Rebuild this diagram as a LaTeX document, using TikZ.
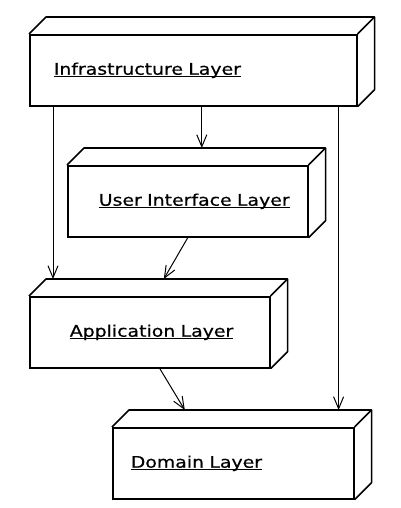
\documentclass[tikz,border=0pt]{standalone}
\usepackage{fontspec}
\setmainfont{DejaVu Sans}[FakeStretch = 1.18, FakeBold = 0.6]
\usetikzlibrary{positioning, calc, arrows.meta}
\newcommand{\layername}[2]{\hspace*{#1}\setbox0\hbox{#2}\raisebox{-3pt}{\rlap{\rule[-2.2pt]{\wd0}{1.2pt}}\box0}}
\tikzset{openbarb/.tip={Straight Barb[length=12pt, width=10pt, line width=1pt]}}

\begin{document}
\begin{tikzpicture}[
    x = 1pt,
    y = -1pt,
    every node/.style={
        draw = black,
        line width = 1.6,
        minimum height = 71pt,
        inner xsep = 0pt,
        align = left,
        anchor = north west,
        font = \fontsize{16}{18}\selectfont
    },
    >={openbarb}
]
\useasboundingbox (0,0) rectangle (400,508);

% layers
\node[text width = 327pt] (infra) at (29, 34) {\layername{24pt}{Infrastructure Layer}};
\node[text width = 240pt] (ui) at (67, 165) {\layername{31pt}{User Interface Layer}};
\node[text width = 240pt] (app) at (29, 296) {\layername{40pt}{Application Layer}};
\node[text width = 241pt] (dom) at (112, 427) {\layername{18pt}{Domain Layer}};

% depth of the boxes
\foreach \n in {infra, ui, app, dom}
{
    \draw[line width = 1.6, line join = round] (\n.north west) -- ++(17,-17) -- ($(\n.north east) + (17,-17)$) -- ($(\n.south east) + (17,-17)$) -- (\n.south east);
    \draw[line width = 1.6] (\n.north east) -- ++(17,-17);
}
\coordinate (uitop) at ($(ui.north) + (0,-17)$);
\coordinate (apptop) at ($(app.north) + (0,-17)$);
\coordinate (domtop) at ($(dom.north) + (0,-17)$);

% dependencies
\draw[->, line width = 1] ([xshift = 8.5pt]infra.south) -- ([xshift = 8.5pt]infra.south |- uitop);
\draw[->, line width = 1] ([xshift = 24pt]infra.south west) -- ([xshift = 24pt]infra.south west |- apptop);
\draw[->, line width = 1] ([xshift = -19pt]infra.south east) -- ([xshift = -19pt]infra.south east |- domtop);
\draw[->, line width = 1] (ui.south) -- ([xshift = 14pt]apptop);
\draw[->, line width = 1] ([xshift = 10pt]app.south) -- ([xshift = -48.5pt]domtop);

\end{tikzpicture}
\end{document}
